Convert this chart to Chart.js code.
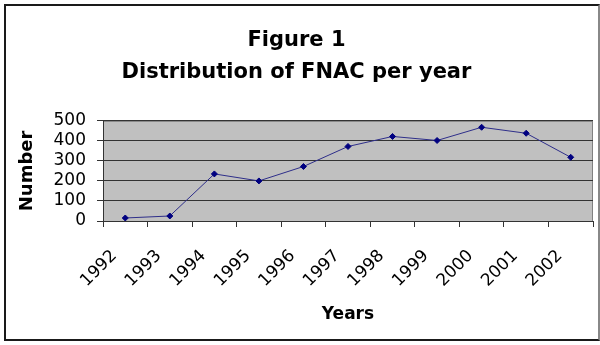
<!DOCTYPE html>
<html>
<head>
<meta charset="utf-8">
<script src="https://cdn.jsdelivr.net/npm/chart.js@4"></script>
<style>
  body { margin: 0; background: #fff; }
  #wrap { position: relative; width: 600px; height: 345px; }
  #frame {
    position: absolute; left: 4px; top: 4px; width: 596px; height: 337px;
    box-sizing: border-box; border: 2px solid #1a1a1a; border-right-color: #888;
    pointer-events: none;
  }
  canvas { position: absolute; left: 0; top: 0; }
</style>
</head>
<body>
<div id="wrap">
  <canvas id="chart" width="600" height="345"></canvas>
  <div id="frame"></div>
</div>
<script>
const years = ['1992', '1993', '1994', '1995', '1996', '1997', '1998', '1999', '2000', '2001', '2002'];
const fnacCounts = [15, 25, 235, 200, 272, 372, 422, 402, 468, 438, 318];
const titleLines = ['Figure 1', 'Distribution of FNAC per year'];

// grey plot area like the old excel charts
const plotBg = {
  id: 'plotBg',
  beforeDraw(chart) {
    const { ctx, chartArea: a } = chart;
    ctx.save();
    ctx.fillStyle = '#c0c0c0';
    ctx.fillRect(a.left, a.top, a.right - a.left, a.bottom - a.top);
    ctx.strokeStyle = '#808080';
    ctx.lineWidth = 1;
    ctx.strokeRect(a.left + 0.5, a.top + 0.5, a.right - a.left - 1, a.bottom - a.top);
    ctx.restore();
  }
};

const font = 'DejaVu Sans';

new Chart(document.getElementById('chart'), {
  type: 'line',
  data: {
    labels: years,
    datasets: [{
      data: fnacCounts,
      borderColor: '#2e2e8a',
      borderWidth: 1,
      pointStyle: 'rectRot',
      pointRadius: 3,
      pointBackgroundColor: '#000080',
      pointBorderColor: '#000080',
      tension: 0,
      fill: false
    }]
  },
  options: {
    responsive: false,
    animation: false,
    layout: { padding: { left: 0, right: 7, top: 0, bottom: 0 } },
    plugins: {
      legend: { display: false },
      tooltip: { enabled: false },
      title: {
        display: true,
        text: titleLines,
        color: '#000',
        font: { family: font, size: 21, weight: 'bold', lineHeight: 1.52 },
        padding: { top: 25, bottom: 32 }
      }
    },
    scales: {
      x: {
        offset: true,
        grid: { offset: true, drawOnChartArea: false, drawTicks: true, tickLength: 6, color: '#333' },
        border: { color: '#333' },
        ticks: {
          color: '#000',
          font: { family: font, size: 17 },
          maxRotation: 45, minRotation: 45,
          autoSkip: false,
          labelOffset: -11,
          padding: 19
        },
        title: {
          display: true,
          text: 'Years',
          color: '#000',
          font: { family: font, size: 17, weight: 'bold' },
          padding: { top: 0, bottom: 20 }
        },
        afterFit(scale) {
          scale.height = 124;
          scale.paddingLeft = 0;
          scale.paddingRight = 0;
        }
      },
      y: {
        min: 0, max: 500,
        grid: { color: '#333', tickLength: 6 },
        border: { color: '#333' },
        ticks: {
          stepSize: 100,
          autoSkip: false,
          color: '#000',
          font: { family: font, size: 17 },
          padding: 11
        },
        title: {
          display: true,
          text: 'Number',
          color: '#000',
          font: { family: font, size: 18, weight: 'bold' },
          padding: { top: 17, bottom: 0 }
        },
        afterFit(scale) { scale.width = 103; }
      }
    }
  },
  plugins: [plotBg]
});
</script>
</body>
</html>
